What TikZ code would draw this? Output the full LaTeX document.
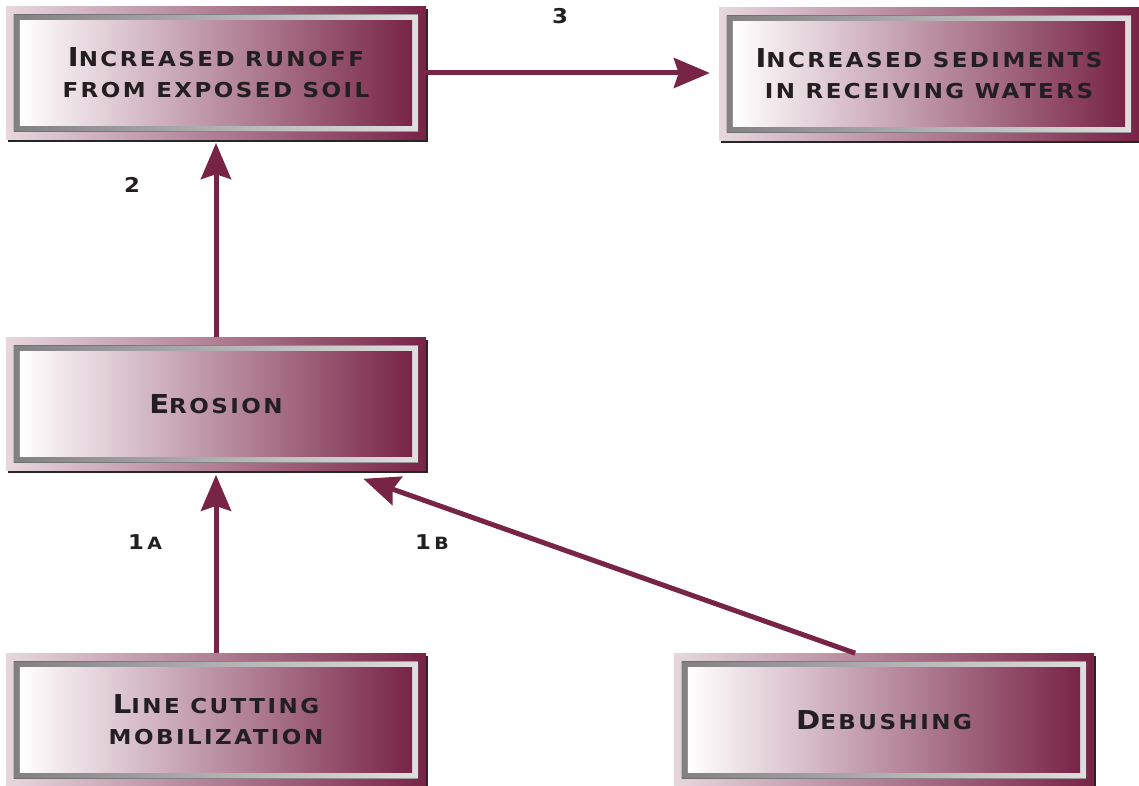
\documentclass[tikz,border=0pt]{standalone}
\usepackage{fontspec}
\usetikzlibrary{arrows.meta,shadows}
\definecolor{wine}{RGB}{120,36,70}
\definecolor{inkc}{RGB}{35,31,32}
\newfontfamily\capfont[FakeStretch=1.12,LetterSpace=12]{DejaVu Sans}
\newcommand{\bc}[1]{{\fontsize{18.5pt}{22pt}\selectfont #1}}
\newcommand{\lc}[1]{{\fontsize{12pt}{22pt}\selectfont #1}}

\begin{document}
\begin{tikzpicture}[x=0.025cm, y=-0.025cm,
  effect/.style={rectangle, minimum width=10.5cm, minimum height=3.325cm,
    left color=wine!18, right color=wine, text=inkc, align=center,
    font=\capfont\bfseries\fontsize{14.6pt}{22pt}\selectfont,
    drop shadow={shadow xshift=0.06cm, shadow yshift=-0.06cm, opacity=1, fill=black!85},
    path picture={
      \fill[left color=black!50, right color=black!12, even odd rule]
        ([shift={(8,8)}]path picture bounding box.north west) rectangle
        ([shift={(-8,-8)}]path picture bounding box.south east)
        ([shift={(14,14)}]path picture bounding box.north west) rectangle
        ([shift={(-14,-14)}]path picture bounding box.south east);
      \shade[left color=white, right color=wine]
        ([shift={(14,14)}]path picture bounding box.north west) rectangle
        ([shift={(-14,-14)}]path picture bounding box.south east);
    }},
  link/.style={draw=wine, line width=0.125cm,
    -{Stealth[length=0.9cm, width=0.75cm, inset=0.12cm]}},
  num/.style={text=inkc, font=\capfont\bfseries\fontsize{14.5pt}{16pt}\selectfont}]
  \useasboundingbox (0,0) rectangle (1139,786);

  % boxes
  \node[effect] (runoff) at (216,73) {\bc{I}NCREASED RUNOFF\\FROM EXPOSED SOIL};
  \node[effect] (sediments) at (929,74) {\bc{I}NCREASED SEDIMENTS\\IN RECEIVING WATERS};
  \node[effect] (erosion) at (216,404) {\bc{E}ROSION};
  \node[effect] (cutting) at (216,720) {\bc{L}INE CUTTING\\MOBILIZATION};
  \node[effect] (debushing) at (884,720) {\bc{D}EBUSHING};

  % links
  \draw[link, shorten >=0.22cm] (runoff.east) -- (runoff.east -| sediments.west);
  \draw[link, shorten >=0.08cm] (erosion.north) -- (runoff.south);
  \draw[link, shorten >=0.1cm] (cutting.north) -- (erosion.south);
  \coordinate (hit) at ([shift={(-63,8)}]erosion.south east);
  \draw[link] ([xshift=-0.72cm]debushing.north) -- (hit);

  % step numbers
  \node[num] (n3) at (560,16) {3};
  \node[num] (n2) at (132,185) {2};
  \node[num] (n1a) at (145,542) {1\,\lc{A}};
  \node[num] (n1b) at (432,542) {1\,\lc{B}};
\end{tikzpicture}
\end{document}
